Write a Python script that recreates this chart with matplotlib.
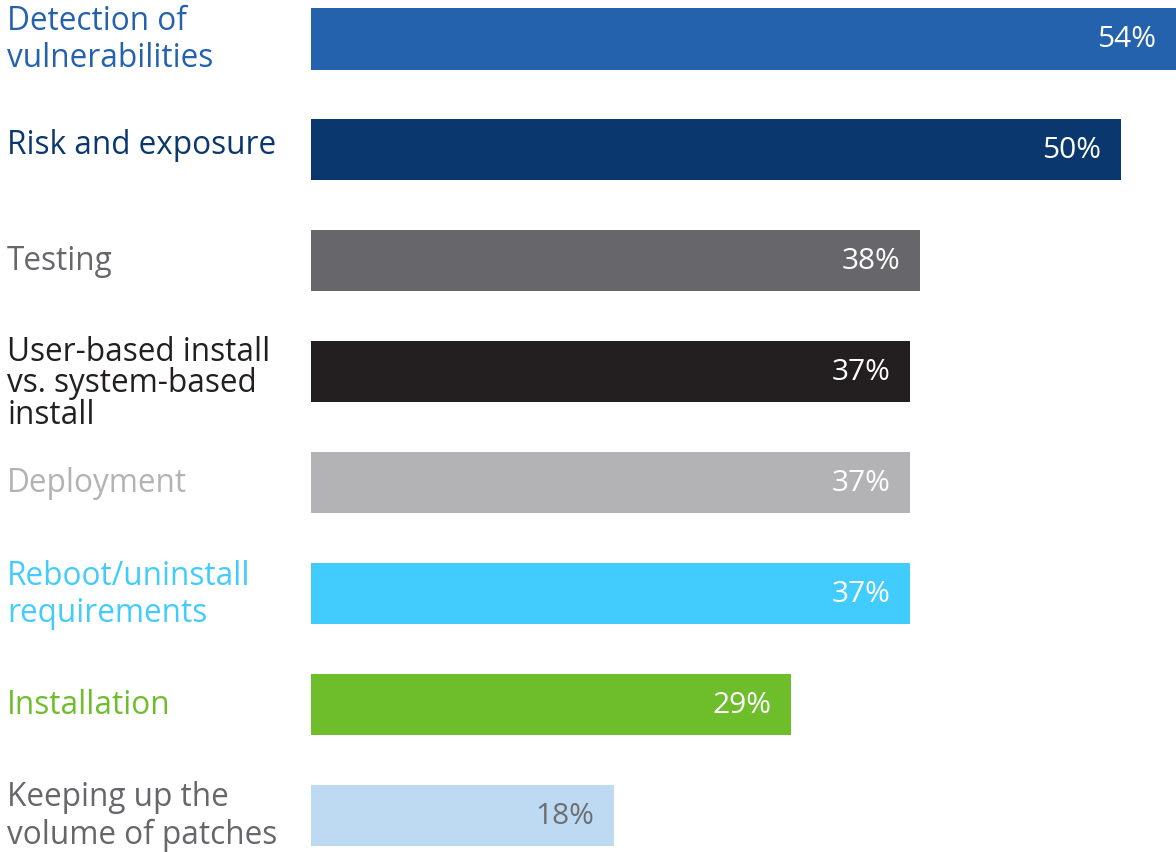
import matplotlib.pyplot as plt

labels = ["Detection of\nvulnerabilities", "Risk and exposure", "Testing",
          "User-based install\nvs. system-based\ninstall", "Deployment",
          "Reboot/uninstall\nrequirements", "Installation",
          "Keeping up the\nvolume of patches"]
values = [54, 50, 38, 37, 37, 37, 29, 18]
# bar lengths as drawn in the picture (underlying values before rounding)
lengths = [54, 50, 37.6, 37, 37, 37, 29.6, 18.7]
bar_colors = ["#2462ae", "#0a386e", "#67676b", "#231f20", "#b3b3b5",
              "#42ccfd", "#6ebe2c", "#bed9f2"]
text_colors = ["#2462ae", "#0a386e", "#67676b", "#231f20", "#b3b3b5",
               "#42ccfd", "#6ebe2c", "#67676b"]
value_colors = ["white"] * 7 + ["#6d6e71"]

plt.rcParams['font.family'] = ['Open Sans', 'DejaVu Sans']

fig = plt.figure(figsize=(11.76, 8.53), dpi=100)
ax = fig.add_axes([311 / 1176, 0, 1 - 311 / 1176, 1])

pos = list(range(len(values)))
ax.barh(pos, lengths, height=0.55, color=bar_colors)
xmax = 865 / 16.2
ax.set_xlim(0, xmax)
ax.set_ylim(7 + 36.5 / 110.93, -40 / 110.93)
ax.axis('off')

for i in pos:
    ax.annotate(f"{values[i]}%", xy=(min(lengths[i], xmax), i), xytext=(-14, 0),
                textcoords='offset points', ha='right', va='center',
                fontsize=21.5, color=value_colors[i], annotation_clip=False)
    nl = labels[i].count("\n")
    ls = 0.93 if nl == 2 else 1.17
    dy = 8 if nl == 2 else 0
    if labels[i] == "Risk and exposure":
        dy = -4
    ax.annotate(labels[i], xy=(7 / 1176, i), xycoords=('figure fraction', 'data'),
                xytext=(0, -dy), textcoords='offset points',
                ha='left', va='center', fontsize=22.7, color=text_colors[i],
                linespacing=ls)

fig.savefig("out.png", dpi=100)
